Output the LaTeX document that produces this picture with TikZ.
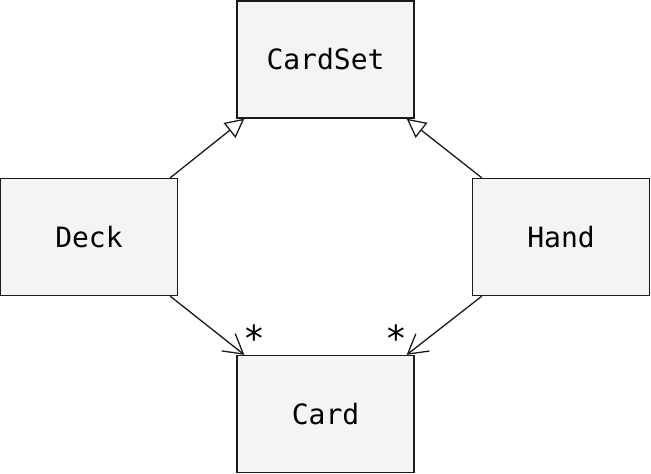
\documentclass[tikz,border=0pt]{standalone}
\usepackage{fontspec}
\setmonofont{DejaVu Sans Mono}
\usepackage{tikz}
\usetikzlibrary{arrows.meta}
\definecolor{classfill}{HTML}{F4F4F6}
\definecolor{classline}{HTML}{1A1A1A}
\tikzstyle{umlclass}=[draw=classline,fill=classfill,line width=1.3pt,minimum width=177pt,minimum height=117pt,inner sep=0pt,font=\ttfamily\fontsize{28}{34}\selectfont]
\tikzstyle{inherit}=[draw=classline,line width=1.3pt,-{Triangle[open,length=19pt,width=19pt]}]
\tikzstyle{assoc}=[draw=classline,line width=1.3pt,-{Straight Barb[length=19pt,width=22pt]}]
\tikzstyle{mult}=[inner sep=0pt,font=\ttfamily\fontsize{36}{36}\selectfont]

\begin{document}
\begin{tikzpicture}[x=1pt,y=-1pt]
\useasboundingbox (0,0) rectangle (651,474);
\node [umlclass] (cardset) at (325.5,59.5) {CardSet};
\node [umlclass] (deck) at (89,237) {Deck};
\node [umlclass] (hand) at (561,237) {Hand};
\node [umlclass] (card) at (325.5,414) {Card};

\draw [inherit] ([xshift=-8pt]deck.north east) -- ([xshift=8pt]cardset.south west);
\draw [inherit] ([xshift=10pt]hand.north west) -- ([xshift=-8pt]cardset.south east);
\draw [assoc] ([xshift=-8pt]deck.south east) -- ([xshift=8pt]card.north west);
\draw [assoc] ([xshift=10pt]hand.south west) -- ([xshift=-8pt]card.north east);

\node [mult] (deckmult) at ([xshift=18pt,yshift=17pt]card.north west) {*};
\node [mult] (handmult) at ([xshift=-18pt,yshift=17pt]card.north east) {*};
\end{tikzpicture}
\end{document}
